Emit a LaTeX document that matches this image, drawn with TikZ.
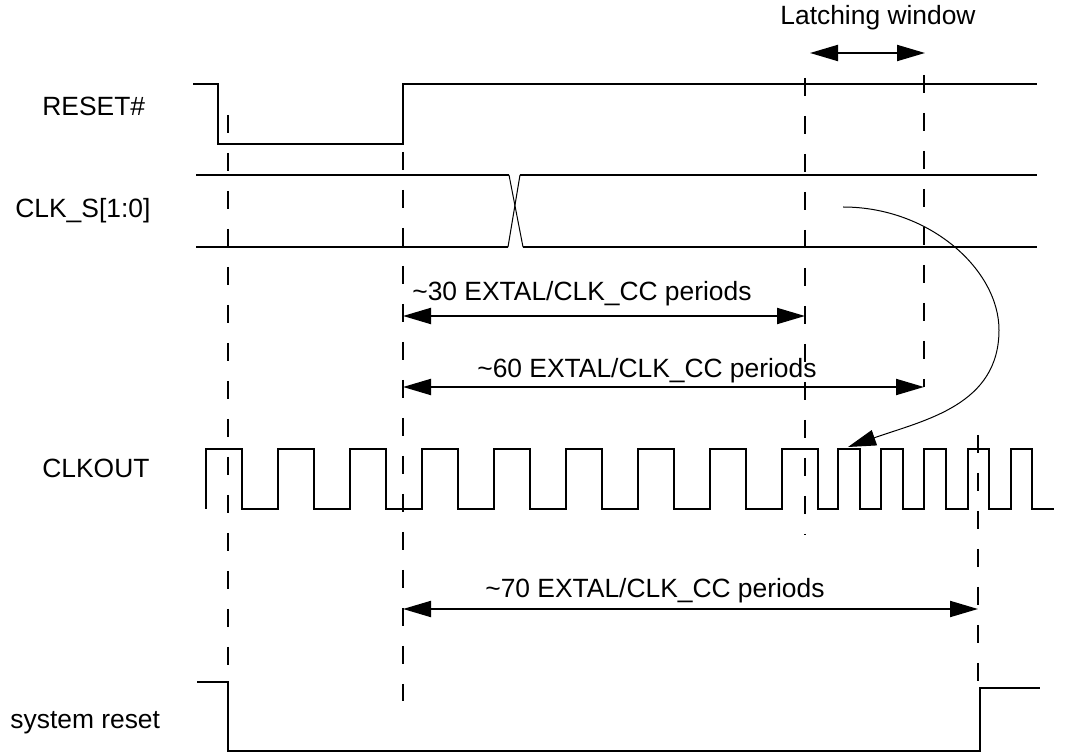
\documentclass[tikz,border=0pt]{standalone}
\usepackage{fontspec}
\setmainfont{Liberation Sans}
\usepackage{tikz}
\usetikzlibrary{arrows.meta}

\begin{document}
\begin{tikzpicture}[x=0.5pt, y=-0.5pt, font=\fontsize{13.2}{16}\selectfont]
  \useasboundingbox (0,0) rectangle (1072,753);
  \tikzset{sig/.style={line width=1pt},
    guide/.style={line width=1pt, dash pattern=on 9pt off 10pt},
    tip/.style={Triangle[length=14pt,width=8pt]},
    span/.style={line width=1pt, {Triangle[length=14pt,width=8pt]}-{Triangle[length=14pt,width=8pt]}},
    lbl/.style={anchor=base west, inner sep=0pt},
    note/.style={anchor=base, inner sep=0pt}}

 % signal names
  \node[lbl] (resetname) at (42,116) {RESET\#};
  \node[lbl] (clksname) at (15,218) {CLK\_S[1:0]};
  \node[lbl] (clkoutname) at (42,478) {CLKOUT};
  \node[lbl] (sysname) at (10,728) {system reset};

% RESET#
  \draw[sig] (193,84) -- (218,84) -- (218,144) -- (403,144) -- (403,84) -- (1037,84);

% CLK_S[1:0]
  \draw[sig] (196,175) -- (509,175);
  \draw[sig] (196,247) -- (508,247);
  \draw[line width=0.5pt] (509,175) -- (523,247);
  \draw[line width=0.5pt] (508,247) -- (520,175);
  \draw[sig] (520,175) -- (1037,175);
  \draw[sig] (523,247) -- (1037,247);

% CLKOUT
  \draw[sig] (206,509) \foreach \k in {1,...,8} {
      -- ++(0,-60) -- ++(36,0) -- ++(0,60) -- ++(36,0) }
    -- ++(0,-60) -- ++(36,0) -- ++(0,60) -- ++(20,0)
    \foreach \k in {1,...,5} {
      -- ++(0,-60) -- ++(21.6,0) -- ++(0,60) -- ++(21.6,0) };

% system reset
  \draw[sig] (197,682) -- (228,682) -- (228,751) -- (980,751) -- (980,688) -- (1040,688);

% guides
  \draw[guide] (228,115) -- (228,700);
  \draw[guide] (403,152) -- (403,701);
  \draw[guide] (805,78) -- (805,535);
  \draw[guide] (924,75) -- (924,387);
  \draw[guide] (978,435) -- (978,688);

% latching window
  \node[note] (latch) at (878,25) {Latching window};
  \coordinate (latchl) at (810,53);
  \coordinate (latchr) at (925,53);
  \draw[span] (latchl) -- (latchr);

% periods
  \coordinate (p30l) at (403,316);
  \coordinate (p30r) at (805,316);
  \draw[span] (p30l) -- (p30r);
  \node[note] (t30) at (582,301) {\textasciitilde30 EXTAL/CLK\_CC periods};

  \coordinate (p60l) at (403,387);
  \coordinate (p60r) at (924,387);
  \draw[span] (p60l) -- (p60r);
  \node[note] (t60) at (647,378) {\textasciitilde60 EXTAL/CLK\_CC periods};

  \coordinate (p70l) at (403,609);
  \coordinate (p70r) at (978,609);
  \draw[span] (p70l) -- (p70r);
  \node[note] (t70) at (655,598) {\textasciitilde70 EXTAL/CLK\_CC periods};

% clock switch
  \coordinate (swfrom) at (843,207);
  \coordinate (swto) at (848,447);
  \draw[line width=0.5pt, -{Triangle[length=14pt,width=8pt]}] (swfrom)
    .. controls (930,207) and (999,270) .. (999,330)
    .. controls (999,405) and (925,420) .. (swto);

\end{tikzpicture}
\end{document}
